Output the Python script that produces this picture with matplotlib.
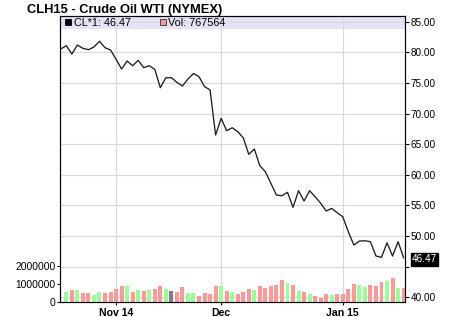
import matplotlib

matplotlib.use("Agg")

import matplotlib.pyplot as plt
import numpy as np
from matplotlib.patches import Rectangle

TITLE = "CLH15 - Crude Oil WTI (NYMEX)"
SYMBOL = "CL*1"

# daily settles, one per trading session, late Oct 2014 .. mid Jan 2015
CLOSE = [
    80.54, 81.08, 79.72, 81.19, 80.65, 80.43, 80.87, 81.80, 80.75, 80.38,
    78.86, 77.27, 78.58, 77.81, 78.69, 77.49, 77.81, 77.22, 74.22, 75.85,
    75.85, 75.10, 74.50, 75.64, 76.54, 76.02, 74.40, 73.85, 66.50, 69.22,
    67.20, 67.69, 67.04, 66.05, 63.34, 64.21, 61.48, 60.50, 58.60, 56.70,
    56.58, 57.14, 54.69, 57.40, 55.72, 57.40, 56.42, 55.34, 54.08, 54.52,
    53.80, 53.15, 50.70, 48.53, 49.18, 49.23, 49.07, 46.74, 46.52, 48.90,
    46.74, 49.07, 46.47,
]
# volume starts at the second session
VOLUME = [
    556000, 667000, 667000, 500000, 500000, 390000, 556000, 500000, 556000, 720000,
    890000, 890000, 556000, 667000, 610000, 667000, 720000, 890000, 720000, 610000,
    556000, 830000, 500000, 500000, 330000, 500000, 440000, 890000, 890000, 610000,
    556000, 440000, 556000, 720000, 667000, 890000, 780000, 890000, 940000, 1220000,
    1060000, 940000, 610000, 556000, 440000, 330000, 220000, 440000, 390000, 440000,
    440000, 720000, 1000000, 940000, 830000, 940000, 890000, 1110000, 1170000, 1330000,
    780000, 767564,
]
# g = up, r = down, k = unchanged
VOLUME_DIRECTION = (
    "grgrrggrrr" "rgrgrgrrgk" "rrggrrrrgr" "grrrgrrrrr" "grgrgrrrgr" "rrrggrrrgr" "gr"
)
MONTH_TICKS = [10, 29, 51]  # session index of each month's first session
MONTH_LABELS = ["Nov 14", "Dec", "Jan 15"]
PRICE_TICKS = [40, 45, 50, 55, 60, 65, 70, 75, 80, 85]
VOLUME_TICKS = [0, 1000000, 2000000]

BAR_COLORS = {"g": "#99ff99", "r": "#ff9999", "k": "#808080"}
FONT = "Liberation Sans"

plt.rcParams.update({"font.family": FONT})

W, H = 450, 317
fig = plt.figure(figsize=(W / 100, H / 100), dpi=100)
fig.patch.set_facecolor("white")

# plot frame in pixels: x 60..405, y 16..302
ax = fig.add_axes([60 / W, 15 / H, 345 / W, 286 / H])
vol_ax = ax.twinx()
ax.yaxis.tick_right()
vol_ax.yaxis.tick_left()

sessions = np.arange(len(CLOSE))
ax.plot(sessions, CLOSE, color="#1e1e1e", linewidth=0.95, zorder=3)

vol_x = sessions[1:]
vol_ax.bar(
    vol_x,
    VOLUME,
    width=0.72,
    color=[BAR_COLORS[c] for c in VOLUME_DIRECTION],
    linewidth=0,
)

ax.set_xlim(-0.14, 62.25)
ax.set_ylim(39.23, 85.93)
vol_ax.set_ylim(0, 15.9e6)

ax.set_xticks(MONTH_TICKS)
ax.set_xticklabels(MONTH_LABELS, fontweight="bold", fontsize=7.6)
ax.set_yticks(PRICE_TICKS)
ax.set_yticklabels(["" if v == 45 else f"{v:.2f}" for v in PRICE_TICKS], fontsize=7.2)
vol_ax.set_yticks(VOLUME_TICKS)
vol_ax.set_yticklabels([str(v) for v in VOLUME_TICKS], fontsize=7.4)

ax.tick_params(axis="x", length=2, width=0.8, pad=2.5, colors="black")
ax.tick_params(axis="y", length=3, width=0.8, pad=1.2, colors="black")
vol_ax.tick_params(axis="y", length=2.5, width=0.8, pad=0.6, colors="black")

ax.grid(True, color="#d9d9d9", linewidth=0.8)
ax.set_axisbelow(True)
for a in (ax, vol_ax):
    for spine in a.spines.values():
        spine.set_color("black")
        spine.set_linewidth(0.8)

# legend band at top of plot
band_h = 13 / 286
ax.add_patch(
    Rectangle((0, 1 - band_h), 1, band_h, transform=ax.transAxes,
              facecolor="#e3e3f9", edgecolor="none", zorder=0.4)
)
sq_w, sq_h = 6 / 345, 6 / 286
sq_y = 1 - 9.5 / 286
txt_y = 1 - 6.8 / 286
ax.add_patch(
    Rectangle((5 / 345, sq_y), sq_w, sq_h, transform=ax.transAxes,
              facecolor="black", edgecolor="black", linewidth=0.6, zorder=4)
)
ax.text(14 / 345, txt_y, f"{SYMBOL}: {CLOSE[-1]:.2f}", transform=ax.transAxes,
        fontsize=7.8, va="center", ha="left", zorder=4)
ax.add_patch(
    Rectangle((99.5 / 345, sq_y), sq_w, sq_h, transform=ax.transAxes,
              facecolor=BAR_COLORS["r"], edgecolor="#333333", linewidth=0.6, zorder=4)
)
ax.text(108.5 / 345, txt_y, f"Vol: {VOLUME[-1]}", transform=ax.transAxes,
        fontsize=7.8, va="center", ha="left", zorder=4)

# last price flag on the right axis
ax.annotate(
    f"{CLOSE[-1]:.2f}",
    xy=(1, CLOSE[-1]),
    xycoords=("axes fraction", "data"),
    xytext=(5.0, -1.2),
    textcoords="offset points",
    ha="left",
    va="center",
    fontsize=7.2,
    color="white",
    bbox={"boxstyle": "square,pad=0.12", "facecolor": "black", "edgecolor": "black"},
    annotation_clip=False,
)

fig.text(27 / W, 1 - 13 / H, TITLE, fontsize=9.3, fontweight="bold",
         ha="left", va="baseline")

fig.savefig("out.png", dpi=100, facecolor=fig.get_facecolor())
